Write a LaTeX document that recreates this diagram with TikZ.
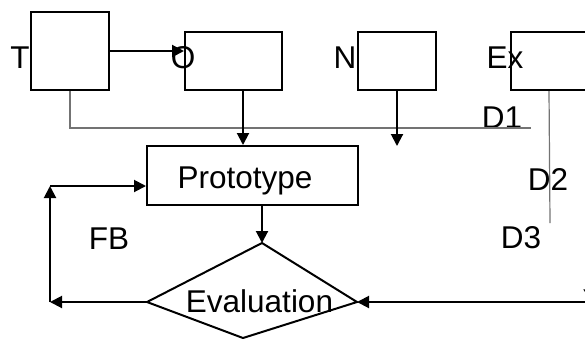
\documentclass[tikz,border=0pt]{standalone}
\usepackage{fontspec}
\setmainfont{Liberation Sans}
\usetikzlibrary{arrows.meta}
\begin{document}
\begin{tikzpicture}[x=1pt,y=-1pt,
  box/.style={draw,line width=2pt,inner sep=0pt},
  lbl/.style={inner sep=0pt,font=\fontsize{31.5}{31.5}\selectfont,anchor=base},
  arr/.style={line width=2pt,-{Triangle[length=12pt,width=12pt]}},
  ln/.style={line width=2pt},
  gln/.style={draw=black!55,line width=1.2pt}]
\useasboundingbox (0,0) rectangle (585,338);
\clip (0,0) rectangle (585,338);
% boxes
\node[box,minimum width=78pt,minimum height=78pt] (tbox) at (70,51) {};
\node[box,minimum width=97pt,minimum height=58pt] (obox) at (233.5,61) {};
\node[box,minimum width=78pt,minimum height=58pt] (nbox) at (397,61) {};
\node[box,minimum width=109pt,minimum height=58pt] (exbox) at (565.5,61) {};
\node[box,minimum width=211pt,minimum height=59pt] (proto) at (252.5,175.5) {};
\node[lbl] (protot) at (245,188.5) {Prototype};
% diamond
\coordinate (dt) at (262,243);
\coordinate (dr) at (357,302);
\coordinate (db) at (243,338);
\coordinate (dl) at (147,302);
\draw[ln,line join=miter] (dt) -- (dr) -- (db) -- (dl) -- cycle;
\node[lbl] (evalt) at (259.5,312.5) {Evaluation};
% labels
\node[lbl] (tl) at (20,68.5) {T};
\node[lbl] (ol) at (183,68.5) {O};
\node[lbl] (nl) at (345,68.5) {N};
\node[lbl] (exl) at (505,68.5) {Ex};
\node[lbl] (d1) at (502,128.5) {D1};
\node[lbl] (d2) at (548,190) {D2};
\node[lbl] (d3) at (521,248.5) {D3};
\node[lbl] (fb) at (109,249) {FB};
\node[lbl] (yl) at (593,311) {Y};
% coordinates
\coordinate (d1end) at (531,128);
\coordinate (nend) at (397,146);
\coordinate (d2end) at (550,223);
\coordinate (fbc) at (50,302);
\coordinate (fbt) at (50,186);
\coordinate (yin) at (600,302);
% connectors
\draw[gln] (tbox.south) |- (d1end);
\draw[gln] ([xshift=39pt]exbox.south west) -- (d2end);
\draw[arr] (tbox.east) -- (tbox.east -| obox.west);
\draw[arr] ([xshift=9.5pt]obox.south) -- ([xshift=9.5pt]obox.south |- proto.north);
\draw[arr] (nbox.south) -- (nend);
\draw[arr] (proto.south -| dt) -- (dt);
\draw[arr] (dl) -- (fbc);
\draw[arr] (fbc) -- (fbt);
\draw[arr] (fbt) -- (proto.west |- fbt);
\draw[arr] (yin) -- (dr);
\end{tikzpicture}
\end{document}
